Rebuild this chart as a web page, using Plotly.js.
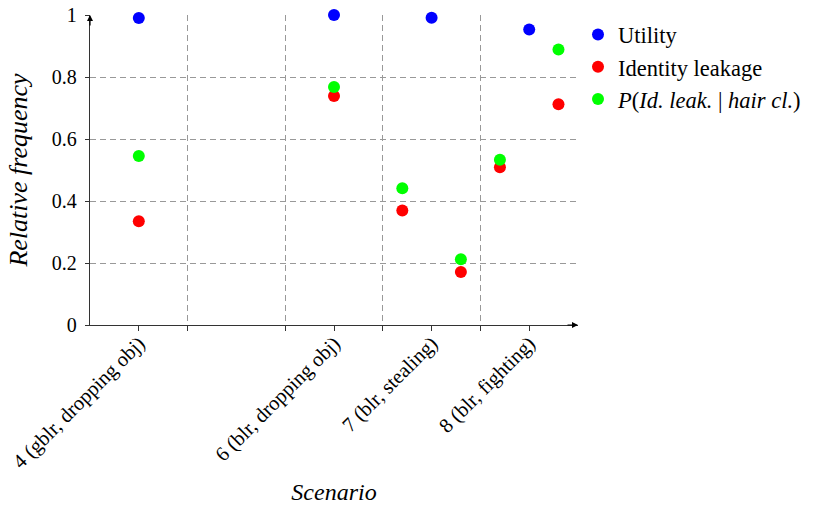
<!DOCTYPE html>
<html><head><meta charset="utf-8">
<script src="https://cdn.plot.ly/plotly-3.0.1.min.js"></script>
<style>html,body{margin:0;padding:0;background:#fff}#chart{width:824px;height:505px}</style>
</head><body><div id="chart"></div>
<script>
const tickVals = [4, 6, 7, 8];
const tickLabels = ['4 (gblr, dropping obj)', '6 (blr, dropping obj)', '7 (blr, stealing)', '8 (blr, fighting)'];
const sepVals = [4.5, 5.5, 6.5, 7.5];

const utilityX = [4, 6, 7, 8];
const utilityY = [0.99, 1.0, 0.991, 0.953];
const leakX = [4, 6, 6.7, 7.3, 7.7, 8.3];
const leakY = [0.335, 0.739, 0.369, 0.171, 0.509, 0.712];
const condX = [4, 6, 6.7, 7.3, 7.7, 8.3];
const condY = [0.545, 0.768, 0.441, 0.212, 0.533, 0.889];

const serif = '"Liberation Serif", "DejaVu Serif", serif';
const mk = c => ({color: c, size: 12});
const data = [
  {x: utilityX, y: utilityY, mode: 'markers', type: 'scatter', name: 'Utility', marker: mk('#0000ff'), cliponaxis: false},
  {x: leakX, y: leakY, mode: 'markers', type: 'scatter', name: 'Identity leakage', marker: mk('#ff0000'), cliponaxis: false},
  {x: condX, y: condY, mode: 'markers', type: 'scatter', name: '<i>P</i>(<i>Id. leak.</i> | <i>hair cl.</i>)', marker: mk('#00ff00'), cliponaxis: false}
];
const layout = {
  width: 824, height: 505,
  margin: {l: 90, r: 246, t: 15, b: 180},
  paper_bgcolor: '#fff', plot_bgcolor: '#fff',
  font: {family: serif, size: 19, color: '#000'},
  showlegend: true,
  legend: {x: 1.0, y: 1.005, xanchor: 'left', yanchor: 'top', font: {family: serif, size: 22.5}, itemwidth: 30, bgcolor: 'rgba(0,0,0,0)'},
  xaxis: {
    range: [3.5, 8.5], tickmode: 'array', tickvals: tickVals, ticktext: tickLabels, tickangle: -45,
    showgrid: false, zeroline: false, showline: true, linecolor: '#333', linewidth: 1.2,
    ticks: 'outside', ticklen: 5, tickcolor: '#333', ticklabelstandoff: -8,
    minor: {tickmode: 'array', tickvals: sepVals, showgrid: true, gridcolor: '#999', griddash: '6px,4px', gridwidth: 1, ticks: 'outside', ticklen: 5, tickcolor: '#333'},
    tickfont: {family: serif, size: 20.5},
    title: {text: '<i>Scenario</i>', font: {family: serif, size: 24}, standoff: 14},
    automargin: false, fixedrange: true
  },
  yaxis: {
    range: [0, 1], tickmode: 'array', tickvals: [0, 0.2, 0.4, 0.6, 0.8, 1], ticktext: ['0', '0.2', '0.4', '0.6', '0.8', '1'],
    showgrid: true, gridcolor: '#999', griddash: '6px,4px', gridwidth: 1,
    zeroline: false, showline: true, linecolor: '#333', linewidth: 1.2,
    ticks: 'outside', ticklen: 4, tickcolor: '#333', ticklabelstandoff: 4,
    tickfont: {family: serif, size: 20},
    title: {text: '<i>Relative frequency</i>', font: {family: serif, size: 26}, standoff: 16},
    automargin: false, fixedrange: true
  },
  annotations: [
    {xref: 'x', yref: 'y', x: 8.5, y: 0, ax: -12, ay: 0, text: '', showarrow: true, arrowhead: 2, arrowsize: 1, arrowwidth: 1.2, arrowcolor: '#000'},
    {xref: 'x', yref: 'y', x: 3.5, y: 1, ax: 0, ay: 12, text: '', showarrow: true, arrowhead: 2, arrowsize: 1, arrowwidth: 1.2, arrowcolor: '#000'}
  ]
};
Plotly.newPlot('chart', data, layout, {staticPlot: true, displayModeBar: false});
</script></body></html>
